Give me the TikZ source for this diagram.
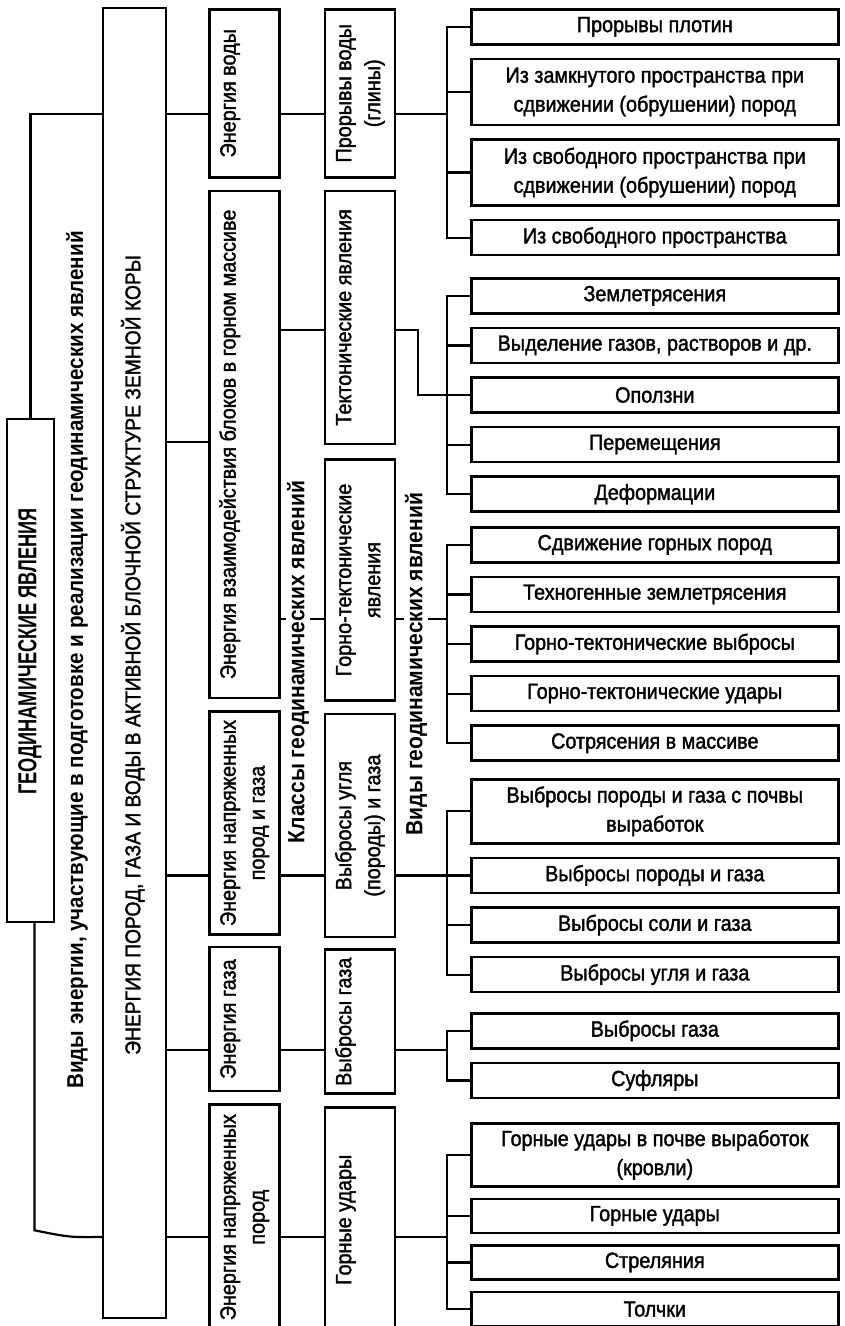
\documentclass[tikz,border=0pt]{standalone}
\usepackage{fontspec}
\setmainfont{Liberation Sans}[FakeStretch=0.9]
\newfontfamily\boxfont{Liberation Sans}[FakeStretch=0.9, FakeBold=1.6]
\newfontfamily\narrowfont{Liberation Sans}[FakeStretch=0.7]
\usepackage{graphicx}
\usetikzlibrary{positioning}

\newcommand{\vtext}[1]{\rotatebox{90}{\begin{tabular}{@{}c@{}}#1\end{tabular}}}
\newcommand{\vsingle}[1]{\vtext{#1\\\mbox{}}}

\tikzset{
  box/.style={draw, line width=2.6pt, inner sep=0pt, font=\boxfont\fontsize{22}{29}\selectfont},
  col/.style={box, minimum width=70pt},
  leaf/.style={box, minimum width=367pt, minimum height=35pt, align=center},
  leafii/.style={leaf, minimum height=66pt},
  link/.style={line width=2.2pt, line cap=rect},
  lbl/.style={fill=white, inner sep=1pt, font=\fontsize{23.4}{27}\selectfont\bfseries}
}

\begin{document}
\begin{tikzpicture}[x=1pt,y=-1pt,node distance=12pt]
\useasboundingbox (0,0) rectangle (845,1326);

\node[box, minimum width=47pt, minimum height=503pt] (title) at (30.5,670.5)
  {\vtext{\hspace*{38pt}\narrowfont\bfseries\fontsize{26}{30}\selectfont ГЕОДИНАМИЧЕСКИЕ ЯВЛЕНИЯ}};
\node[box, minimum width=63pt, minimum height=1310pt] (big) at (134.5,663)
  {\vtext{\hspace*{16pt}\fontsize{21.4}{27}\selectfont ЭНЕРГИЯ ПОРОД, ГАЗА И ВОДЫ В АКТИВНОЙ БЛОЧНОЙ СТРУКТУРЕ ЗЕМНОЙ КОРЫ}};
\node[lbl, fill=none, font=\fontsize{22.9}{27}\selectfont\bfseries] (vidy) at (77,660)
  {\rotatebox{90}{Виды энергии, участвующие в подготовке и реализации геодинамических явлений}};

\node[col, minimum height=168pt, anchor=north west] (e1) at (208,8) {\vsingle{Энергия воды}};
\node[col, minimum height=507pt, below=11pt of e1] (e2) {\vsingle{Энергия взаимодействия блоков в горном массиве}};
\node[col, minimum height=223pt, below=11pt of e2] (e3) {\vtext{Энергия напряженных\\пород и газа}};
\node[col, minimum height=144pt, below=10pt of e3] (e4) {\vsingle{Энергия газа}};
\node[col, minimum height=225pt, below=11pt of e4] (e5) {\vtext{Энергия напряженных\\пород}};

\node[col, minimum height=168pt, right=43pt of e1] (c1) {\vtext{Прорывы воды\\(глины)}};
\node[col, minimum height=253pt, below=11pt of c1] (c2) {\vsingle{Тектонические явления}};
\node[col, minimum height=241pt, below=13pt of c2] (c3) {\vtext{Горно-тектонические\\явления}};
\node[col, minimum height=223pt, below=11pt of c3] (c4) {\vtext{Выбросы угля\\(породы) и газа}};
\node[col, minimum height=144pt, below=10pt of c4] (c5) {\vsingle{Выбросы газа}};
\node[col, minimum height=225pt, below=11pt of c5] (c6) {\vsingle{Горные удары}};

\node[leaf, anchor=north west] (l11) at (470,8) {Прорывы плотин};
\node[leafii, below=of l11] (l12) {Из замкнутого пространства при\\сдвижении (обрушении) пород};
\node[leafii, below=of l12] (l13) {Из свободного пространства при\\сдвижении (обрушении) пород};
\node[leaf, below=of l13] (l14) {Из свободного пространства};

\node[leaf, anchor=north west] (l21) at (470,277) {Землетрясения};
\node[leaf, below=of l21] (l22) {Выделение газов, растворов и др.};
\node[leaf, below=of l22] (l23) {Оползни};
\node[leaf, below=of l23] (l24) {Перемещения};
\node[leaf, below=of l24] (l25) {Деформации};

\node[leaf, anchor=north west] (l31) at (470,526) {Сдвижение горных пород};
\node[leaf, below=of l31] (l32) {Техногенные землетрясения};
\node[leaf, below=of l32] (l33) {Горно-тектонические выбросы};
\node[leaf, below=of l33] (l34) {Горно-тектонические удары};
\node[leaf, below=of l34] (l35) {Сотрясения в массиве};

\node[leafii, minimum height=64pt, anchor=north west] (l41) at (470,778) {Выбросы породы и газа с почвы\\выработок};
\node[leaf, below=of l41] (l42) {Выбросы породы и газа};
\node[leaf, below=of l42] (l43) {Выбросы соли и газа};
\node[leaf, below=of l43] (l44) {Выбросы угля и газа};

\node[leaf, anchor=north west] (l51) at (470,1012) {Выбросы газа};
\node[leaf, below=of l51] (l52) {Суфляры};

\node[leafii, minimum height=63pt, anchor=north west] (l61) at (470,1122) {Горные удары в почве выработок\\(кровли)};
\node[leaf, minimum height=34pt, below=10pt of l61] (l62) {Горные удары};
\node[leaf, minimum height=34pt, below=10pt of l62] (l63) {Стреляния};
\node[leaf, minimum height=34pt, below=10pt of l63] (l64) {Толчки};

\coordinate (r1) at (0,114);
\coordinate (r2) at (0,442);
\coordinate (r2a) at (0,330);
\coordinate (r2b) at (0,619);
\coordinate (r4) at (0,1050);
\coordinate (r5) at (0,1237);
\coordinate (kx) at (418,0);
\coordinate (bx) at (447,0);

\draw[link] (title.north) |- (big.west |- r1);
\draw[link] ([xshift=4pt]title.south) -- ++(0,307) .. controls +(35,7) .. (big.west |- r5);

\draw[link] (big.east |- r1) -- (e1.west |- r1) (e1.east |- r1) -- (c1.west |- r1) (c1.east |- r1) -- (bx |- r1);
\draw[link] (big.east |- r2) -- (e2.west |- r2);
\draw[link] (e2.east |- r2a) -- (c2.west |- r2a) (c2.east |- r2a) -| (kx |- l23.west) -- (bx |- l23.west);
\draw[link] (e2.east |- r2b) -- (c3.west |- r2b) (c3.east |- r2b) -- (bx |- r2b);
\draw[link] (big.east |- l42.west) -- (e3.west |- l42.west) (e3.east |- l42.west) -- (c4.west |- l42.west) (c4.east |- l42.west) -- (bx |- l42.west);
\draw[link] (big.east |- r4) -- (e4.west |- r4) (e4.east |- r4) -- (c5.west |- r4) (c5.east |- r4) -- (bx |- r4);
\draw[link] (big.east |- r5) -- (e5.west |- r5) (e5.east |- r5) -- (c6.west |- r5) (c6.east |- r5) -- (bx |- r5);

\foreach \a/\b in {l11/l14,l21/l25,l31/l35,l41/l44,l51/l52,l61/l64}
  \draw[link] (bx |- \a.west) -- (bx |- \b.west);
\foreach \l in {l11,l12,l13,l14,l21,l22,l23,l24,l25,l31,l32,l33,l34,l35,l41,l42,l43,l44,l51,l52,l61,l62,l63,l64}
  \draw[link] (\l.west) -- (bx |- \l.west);

\node[lbl] (klassy) at (298,662) {\rotatebox{90}{Классы геодинамических явлений}};
\node[lbl] (vidyl) at (416,664) {\rotatebox{90}{Виды геодинамических явлений}};
\end{tikzpicture}
\end{document}
